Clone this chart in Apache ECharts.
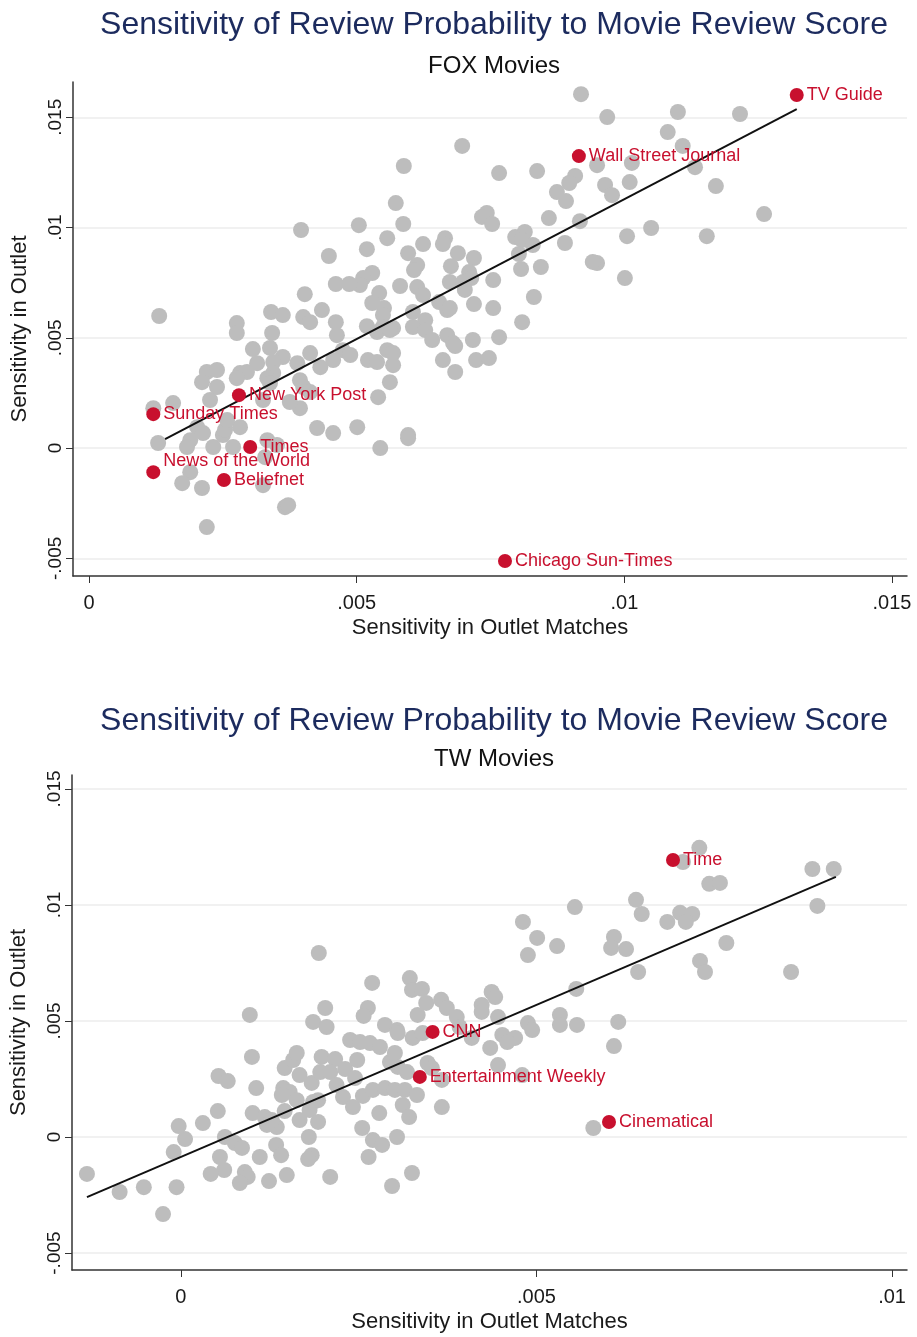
<!DOCTYPE html>
<html>
<head>
<meta charset="utf-8">
<title>Sensitivity of Review Probability to Movie Review Score</title>
<script src="https://cdn.jsdelivr.net/npm/echarts@6/dist/echarts.min.js"></script>
<style>
  html, body { margin: 0; padding: 0; background: #fff; }
  #chart { width: 917px; height: 1337px; }
</style>
</head>
<body>
<div id="chart"></div>
<script>
// FOX movies: unlabeled outlets [matches sensitivity, outlet sensitivity]
var foxOther = [
  [0.00588, 0.01279], [0.00697, 0.01370], [0.00573, 0.01111], [0.00587, 0.01016], [0.00504, 0.01011],
  [0.00396, 0.00989], [0.00557, 0.00952], [0.00519, 0.00902], [0.00624, 0.00925], [0.00665, 0.00952],
  [0.00661, 0.00925], [0.00596, 0.00884], [0.00448, 0.00871], [0.00689, 0.00884], [0.00613, 0.00830],
  [0.00607, 0.00807], [0.00676, 0.00825], [0.00529, 0.00794], [0.00512, 0.00771], [0.00506, 0.00739],
  [0.00461, 0.00744], [0.00486, 0.00744], [0.00581, 0.00735], [0.00674, 0.00753], [0.00613, 0.00730],
  [0.00624, 0.00694], [0.00542, 0.00703], [0.00529, 0.00658], [0.00551, 0.00635], [0.00549, 0.00603],
  [0.00403, 0.00698], [0.00654, 0.00662], [0.00669, 0.00626], [0.00605, 0.00617], [0.00131, 0.00599],
  [0.00340, 0.00617], [0.00362, 0.00603], [0.00400, 0.00594], [0.00413, 0.00571], [0.00435, 0.00626],
  [0.00461, 0.00571], [0.00276, 0.00567], [0.00519, 0.00553], [0.00628, 0.00580], [0.00605, 0.00549],
  [0.00549, 0.00549], [0.00568, 0.00544], [0.00276, 0.00522], [0.00342, 0.00522], [0.00463, 0.00512],
  [0.00538, 0.00526], [0.00562, 0.00535], [0.00628, 0.00535], [0.00641, 0.00490], [0.00669, 0.00512],
  [0.00680, 0.00476], [0.00661, 0.00399], [0.00684, 0.00345], [0.00306, 0.00449], [0.00338, 0.00454],
  [0.00362, 0.00413], [0.00413, 0.00431], [0.00474, 0.00444], [0.00488, 0.00422], [0.00521, 0.00399],
  [0.00538, 0.00390], [0.00557, 0.00444], [0.00568, 0.00431], [0.00568, 0.00376], [0.00562, 0.00299],
  [0.00540, 0.00231], [0.00314, 0.00385], [0.00344, 0.00390], [0.00344, 0.00340], [0.00389, 0.00385],
  [0.00432, 0.00367], [0.00456, 0.00399], [0.00220, 0.00345], [0.00239, 0.00354], [0.00211, 0.00299],
  [0.00239, 0.00277], [0.00282, 0.00340], [0.00295, 0.00345], [0.00276, 0.00317], [0.00333, 0.00317],
  [0.00338, 0.00295], [0.00394, 0.00308], [0.00400, 0.00277], [0.00413, 0.00254], [0.00226, 0.00218],
  [0.00157, 0.00204], [0.00120, 0.00181], [0.00325, 0.00218], [0.00394, 0.00181], [0.00375, 0.00209],
  [0.00426, 0.00091], [0.00456, 0.00068], [0.00501, 0.00095], [0.00596, 0.00059], [0.00596, 0.00045],
  [0.00544, 0.00000], [0.00202, 0.00095], [0.00213, 0.00068], [0.00189, 0.00036], [0.00183, 0.00005],
  [0.00232, 0.00005], [0.00250, 0.00059], [0.00254, 0.00082], [0.00269, 0.00005], [0.00282, 0.00095],
  [0.00258, 0.00127], [0.00129, 0.00023], [0.00333, 0.00036], [0.00351, 0.00014], [0.00189, -0.00109],
  [0.00174, -0.00159], [0.00211, -0.00181], [0.00325, -0.00168], [0.00329, -0.00041], [0.00366, -0.00268],
  [0.00372, -0.00259], [0.00220, -0.00358], [0.00919, 0.01605], [0.00968, 0.01501], [0.01100, 0.01524],
  [0.01216, 0.01515], [0.01081, 0.01433], [0.01109, 0.01370], [0.00766, 0.01247], [0.00837, 0.01256],
  [0.00908, 0.01234], [0.00897, 0.01202], [0.00874, 0.01161], [0.00891, 0.01120], [0.00949, 0.01283],
  [0.01014, 0.01293], [0.01132, 0.01274], [0.00964, 0.01193], [0.00977, 0.01147], [0.01010, 0.01206],
  [0.01171, 0.01188], [0.01261, 0.01061], [0.00743, 0.01066], [0.00734, 0.01048], [0.00753, 0.01016],
  [0.00859, 0.01043], [0.00917, 0.01029], [0.01050, 0.00998], [0.01005, 0.00961], [0.01154, 0.00961],
  [0.00796, 0.00957], [0.00814, 0.00980], [0.00809, 0.00943], [0.00829, 0.00921], [0.00889, 0.00930],
  [0.00719, 0.00862], [0.00710, 0.00798], [0.00714, 0.00771], [0.00699, 0.00753], [0.00755, 0.00762],
  [0.00803, 0.00880], [0.00807, 0.00812], [0.00844, 0.00821], [0.00949, 0.00839], [0.00941, 0.00844],
  [0.01001, 0.00771], [0.00702, 0.00717], [0.00719, 0.00653], [0.00755, 0.00635], [0.00831, 0.00685],
  [0.00809, 0.00571], [0.00766, 0.00503], [0.00717, 0.00490], [0.00674, 0.00635], [0.00684, 0.00463],
  [0.00723, 0.00399], [0.00747, 0.00408]
];
var foxNames = ['Sunday Times', 'New York Post', 'Times', 'News of the World', 'Beliefnet',
  'Chicago Sun-Times', 'Wall Street Journal', 'TV Guide'];
var foxNamedX = [0.00120, 0.00280, 0.00301, 0.00120, 0.00252, 0.00777, 0.00915, 0.01322];
var foxNamedY = [0.00154, 0.00240, 0.00005, -0.00109, -0.00145, -0.00512, 0.01324, 0.01601];
var foxFit = [[0.00142, 0.00041], [0.01322, 0.01537]];

// TW movies
var twOther = [
  [0.00194, 0.00793], [0.00269, 0.00664], [0.00322, 0.00685], [0.00325, 0.00634], [0.00339, 0.00638],
  [0.00345, 0.00578], [0.00366, 0.00591], [0.00374, 0.00556], [0.00388, 0.00517], [0.00333, 0.00526],
  [0.00203, 0.00556], [0.00263, 0.00556], [0.00257, 0.00522], [0.00097, 0.00526], [0.00186, 0.00496],
  [0.00205, 0.00474], [0.00287, 0.00483], [0.00304, 0.00461],
  [0.00729, 0.01246], [0.00706, 0.01185], [0.00888, 0.01155], [0.00918, 0.01155], [0.00743, 0.01091],
  [0.00758, 0.01095], [0.00895, 0.00996], [0.00640, 0.01022], [0.00648, 0.00961], [0.00554, 0.00991],
  [0.00684, 0.00927], [0.00702, 0.00966], [0.00719, 0.00961], [0.00710, 0.00927], [0.00481, 0.00927],
  [0.00501, 0.00858], [0.00488, 0.00784], [0.00529, 0.00823], [0.00609, 0.00862], [0.00605, 0.00815],
  [0.00626, 0.00810], [0.00643, 0.00711], [0.00767, 0.00836], [0.00730, 0.00759], [0.00737, 0.00711],
  [0.00858, 0.00711], [0.00556, 0.00638], [0.00437, 0.00625], [0.00442, 0.00603], [0.00423, 0.00569],
  [0.00423, 0.00539], [0.00446, 0.00517], [0.00533, 0.00526], [0.00488, 0.00491], [0.00533, 0.00483],
  [0.00557, 0.00483], [0.00615, 0.00496],
  [0.00392, 0.00474], [0.00409, 0.00427], [0.00452, 0.00440], [0.00470, 0.00427], [0.00494, 0.00461],
  [0.00609, 0.00392], [0.00435, 0.00384], [0.00459, 0.00409], [0.00446, 0.00310], [0.00480, 0.00267],
  [0.00580, 0.00039],
  [-0.00132, -0.00159], [-0.00086, -0.00237], [-0.00052, -0.00216], [-0.00006, -0.00216], [-0.00025, -0.00332],
  [-0.00010, -0.00065], [0.00006, -0.00009], [-0.00003, 0.00047], [0.00031, 0.00060], [0.00052, 0.00112],
  [0.00053, 0.00263], [0.00066, 0.00241], [0.00100, 0.00345], [0.00106, 0.00211], [0.00101, 0.00103],
  [0.00118, 0.00086], [0.00121, 0.00052], [0.00135, 0.00043], [0.00128, 0.00073], [0.00062, 0.00000],
  [0.00076, -0.00026], [0.00086, -0.00047], [0.00055, -0.00086], [0.00061, -0.00142], [0.00042, -0.00159],
  [0.00090, -0.00151], [0.00094, -0.00172], [0.00083, -0.00198], [0.00111, -0.00086], [0.00124, -0.00190],
  [0.00149, -0.00164], [0.00134, -0.00034], [0.00141, -0.00078], [0.00180, 0.00000], [0.00184, -0.00078],
  [0.00179, -0.00095], [0.00210, -0.00172], [0.00146, 0.00297], [0.00158, 0.00332], [0.00163, 0.00362],
  [0.00167, 0.00267], [0.00144, 0.00211], [0.00153, 0.00194], [0.00142, 0.00181], [0.00163, 0.00159],
  [0.00146, 0.00112], [0.00167, 0.00073], [0.00181, 0.00116], [0.00186, 0.00151], [0.00193, 0.00159],
  [0.00193, 0.00065], [0.00184, 0.00233], [0.00198, 0.00345], [0.00217, 0.00336], [0.00196, 0.00280],
  [0.00210, 0.00280], [0.00231, 0.00293], [0.00219, 0.00224], [0.00228, 0.00172], [0.00242, 0.00129],
  [0.00255, 0.00039], [0.00248, 0.00332], [0.00245, 0.00254], [0.00256, 0.00177], [0.00270, 0.00203],
  [0.00287, 0.00211], [0.00301, 0.00203], [0.00315, 0.00203], [0.00332, 0.00181], [0.00312, 0.00138],
  [0.00321, 0.00086], [0.00279, 0.00103], [0.00270, -0.00013], [0.00283, -0.00034], [0.00304, 0.00000],
  [0.00264, -0.00086], [0.00297, -0.00211], [0.00325, -0.00155], [0.00238, 0.00418], [0.00252, 0.00409],
  [0.00266, 0.00405], [0.00280, 0.00388], [0.00294, 0.00323], [0.00301, 0.00362], [0.00305, 0.00302],
  [0.00318, 0.00280], [0.00347, 0.00319], [0.00353, 0.00297], [0.00367, 0.00246], [0.00367, 0.00129],
  [0.00326, 0.00427], [0.00340, 0.00448], [0.00305, 0.00448]
];
var twNames = ['Time', 'CNN', 'Entertainment Weekly', 'Cinematical'];
var twNamedX = [0.00692, 0.00354, 0.00336, 0.00602];
var twNamedY = [0.01194, 0.00453, 0.00259, 0.00065];
var twFit = [[-0.00132, -0.00259], [0.00921, 0.01121]];

var foxXTicks = [0, 0.005, 0.01, 0.015];
var twXTicks = [0, 0.005, 0.01];
var yTicks = [-0.005, 0, 0.005, 0.01, 0.015];

var FONT = '"Liberation Sans", Arial, Helvetica, sans-serif';
var GRAY = '#bdbdbd';
var RED = '#c8102e';
var INK = '#1a1a1a';

function fmt(v) {
  if (v === 0) return '0';
  return String(v).replace('0.', '.');
}

function named(names, xs, ys) {
  return names.map(function (n, i) {
    var d = { name: n, value: [xs[i], ys[i]] };
    if (n === 'News of the World') d.label = { offset: [0, -11] };
    return d;
  });
}

function xAxis(idx, min, max, ticks) {
  return {
    type: 'value', gridIndex: idx, min: min, max: max,
    name: 'Sensitivity in Outlet Matches', nameLocation: 'middle', nameGap: 41,
    nameTextStyle: { fontFamily: FONT, fontSize: 22, color: INK },
    axisLine: { show: true, onZero: false, lineStyle: { color: '#333', width: 1.5 } },
    axisTick: { show: true, length: 7, customValues: ticks, lineStyle: { color: '#333' } },
    axisLabel: { customValues: ticks, formatter: fmt, fontFamily: FONT, fontSize: 20, color: INK, margin: 17 },
    splitLine: { show: false }
  };
}

function yAxis(idx, min, max) {
  return {
    type: 'value', gridIndex: idx, min: min, max: max,
    name: 'Sensitivity in Outlet', nameLocation: 'middle', nameGap: 42,
    nameTextStyle: { fontFamily: FONT, fontSize: 22, color: INK },
    axisLine: { show: true, onZero: false, lineStyle: { color: '#333', width: 1.5 } },
    axisTick: { show: true, length: 7, customValues: yTicks, lineStyle: { color: '#333' } },
    axisLabel: { customValues: yTicks, formatter: fmt, rotate: 90, fontFamily: FONT, fontSize: 19, color: INK, margin: 8 },
    splitLine: { show: true, lineStyle: { color: '#ececec', width: 1.5 } }
  };
}

function panelSeries(idx, other, fit, namedData) {
  return [
    { type: 'scatter', xAxisIndex: idx, yAxisIndex: idx, data: other, symbolSize: 16,
      itemStyle: { color: GRAY, opacity: 1 }, z: 2, silent: true },
    { type: 'line', xAxisIndex: idx, yAxisIndex: idx, data: fit, showSymbol: false,
      lineStyle: { color: '#111', width: 2 }, z: 3, silent: true },
    { type: 'scatter', xAxisIndex: idx, yAxisIndex: idx, data: namedData, symbolSize: 14,
      itemStyle: { color: RED, opacity: 1 }, z: 4, silent: true,
      label: { show: true, position: 'right', distance: 3, formatter: '{b}',
        fontFamily: FONT, fontSize: 18, color: RED } }
  ];
}

var titleStyle = { fontFamily: FONT, fontSize: 32, fontWeight: 'normal', color: '#1c2b5e' };
var subStyle = { fontFamily: FONT, fontSize: 24, fontWeight: 'normal', color: '#111' };
var mainTitle = 'Sensitivity of Review Probability to Movie Review Score';

var chart = echarts.init(document.getElementById('chart'));
chart.setOption({
  animation: false,
  backgroundColor: '#fff',
  title: [
    { text: mainTitle, left: 489, top: 4, textAlign: 'center', textStyle: titleStyle },
    { text: 'FOX Movies', left: 489, top: 49, textAlign: 'center', textStyle: subStyle },
    { text: mainTitle, left: 489, top: 700, textAlign: 'center', textStyle: titleStyle },
    { text: 'TW Movies', left: 489, top: 742, textAlign: 'center', textStyle: subStyle }
  ],
  grid: [
    { left: 73, right: 10, top: 82, height: 494 },
    { left: 72, right: 10, top: 775, height: 495 }
  ],
  xAxis: [xAxis(0, -0.0003, 0.01528, foxXTicks), xAxis(1, -0.00153, 0.01021, twXTicks)],
  yAxis: [yAxis(0, -0.0058, 0.0166), yAxis(1, -0.00573, 0.0156)],
  series: panelSeries(0, foxOther, foxFit, named(foxNames, foxNamedX, foxNamedY))
    .concat(panelSeries(1, twOther, twFit, named(twNames, twNamedX, twNamedY)))
});
</script>
</body>
</html>
